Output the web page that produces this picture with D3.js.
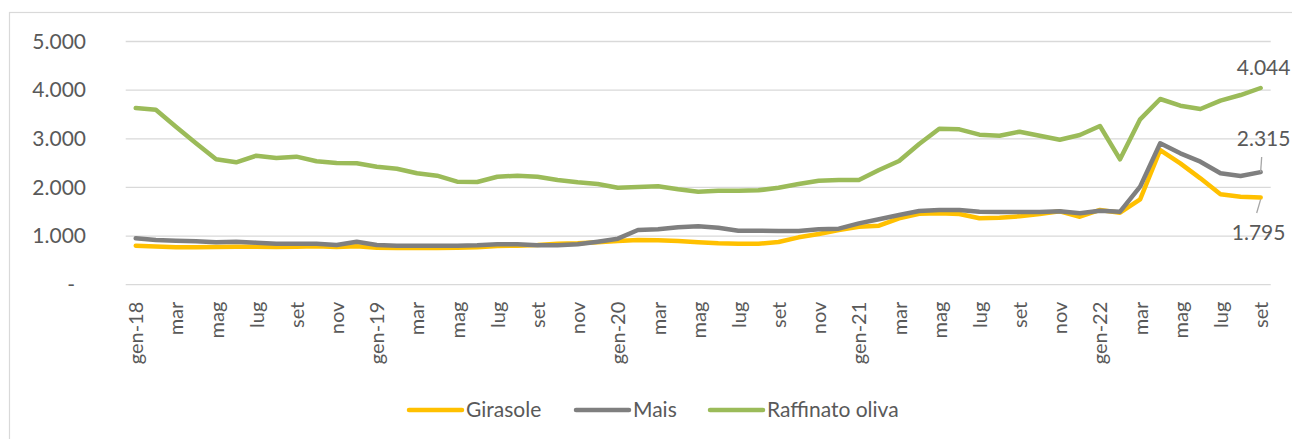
<!DOCTYPE html>
<html>
<head>
<meta charset="utf-8">
<script src="https://cdn.jsdelivr.net/npm/d3@7"></script>
<style>
  html, body { margin: 0; padding: 0; background: #fff; }
  svg { display: block; }
  text { font-family: Lato, "Open Sans", sans-serif; fill: #595959; }
</style>
</head>
<body>
<svg id="chart" width="1292" height="439"></svg>
<script>
// ---- data ----
const categories = [
  "gen-18","feb","mar","apr","mag","giu","lug","ago","set","ott","nov","dic",
  "gen-19","feb","mar","apr","mag","giu","lug","ago","set","ott","nov","dic",
  "gen-20","feb","mar","apr","mag","giu","lug","ago","set","ott","nov","dic",
  "gen-21","feb","mar","apr","mag","giu","lug","ago","set","ott","nov","dic",
  "gen-22","feb","mar","apr","mag","giu","lug","ago","set"
];
const girasole = [
  800, 785, 770, 768, 775, 781, 781, 775, 781, 789, 775, 789,
  762, 754, 754, 754, 762, 768, 796, 802, 816, 843, 850, 871,
  898, 919, 912, 898, 871, 850, 843, 843, 877, 974, 1042, 1125,
  1193, 1213, 1365, 1460, 1467, 1453, 1365, 1378, 1405, 1453, 1508, 1398,
  1536, 1480, 1755, 2769, 2495, 2187, 1858, 1810, 1795
];
const mais = [
  954, 919, 905, 892, 872, 884, 864, 843, 843, 843, 816, 884,
  816, 802, 802, 802, 802, 809, 830, 830, 809, 809, 830, 884,
  946, 1125, 1139, 1180, 1201, 1172, 1110, 1110, 1104, 1104, 1139, 1152,
  1260, 1344, 1433, 1515, 1536, 1536, 1501, 1494, 1494, 1494, 1508, 1467,
  1522, 1501, 2015, 2907, 2701, 2529, 2290, 2235, 2315
];
const raffinatoOliva = [
  3633, 3598, 3248, 2910, 2578, 2516, 2652, 2605, 2632, 2537, 2502, 2496,
  2426, 2385, 2290, 2241, 2118, 2111, 2220, 2241, 2220, 2153, 2105, 2070,
  1994, 2009, 2023, 1961, 1912, 1933, 1933, 1940, 1994, 2070, 2138, 2153,
  2153, 2358, 2543, 2893, 3207, 3194, 3084, 3063, 3146, 3063, 2981, 3078,
  3263, 2578, 3400, 3818, 3680, 3612, 3783, 3900, 4044
];
const seriesNames = ["Girasole", "Mais", "Raffinato oliva"];
const seriesColors = ["#FFC000", "#7F7F7F", "#9BBB59"];
const yTicks = [0, 1000, 2000, 3000, 4000, 5000];

// ---- layout ----
const svg = d3.select("#chart");
const plot = { left: 125.7, right: 1270.7, top: 41.5, bottom: 284.7 };

// chart border
svg.append("rect")
  .attr("x", 9.5).attr("y", 12.5)
  .attr("width", 1400).attr("height", 600)
  .attr("fill", "none").attr("stroke", "#d9d9d9").attr("stroke-width", 1.2);

const idx = d3.range(categories.length);
const x = d3.scalePoint().domain(idx).range([plot.left, plot.right]).padding(0.5);
const y = d3.scaleLinear().domain([0, 5000]).range([plot.bottom, plot.top]);

const locale = d3.formatLocale({ decimal: ",", thousands: ".", grouping: [3], currency: ["", ""] });
const fmt = locale.format(",d");

// gridlines
svg.append("g").selectAll("line").data(yTicks).join("line")
  .attr("x1", plot.left).attr("x2", plot.right)
  .attr("y1", d => y(d)).attr("y2", d => y(d))
  .attr("stroke", "#d9d9d9").attr("stroke-width", 1.3);

// y axis labels
const yAxis = d3.axisLeft(y).tickValues(yTicks).tickSize(0).tickPadding(0)
  .tickFormat(d => d === 0 ? "-" : fmt(d));
const gy = svg.append("g").attr("transform", `translate(${86},0)`).call(yAxis);
gy.select(".domain").remove();
gy.selectAll("text")
  .attr("font-family", "Lato, 'Open Sans', sans-serif")
  .attr("font-size", 21).attr("fill", "#595959")
  .attr("dx", d => d === 0 ? -11 : 0);

// x axis labels (every 2nd month)
const xAxis = d3.axisBottom(x).tickValues(idx.filter(i => i % 2 === 0))
  .tickSize(0).tickFormat(i => categories[i]);
const gx = svg.append("g").attr("transform", `translate(0,${plot.bottom})`).call(xAxis);
gx.select(".domain").remove();
gx.selectAll("text")
  .attr("font-family", "Lato, 'Open Sans', sans-serif")
  .attr("font-size", 20).attr("fill", "#595959")
  .attr("text-anchor", "end")
  .attr("transform", "translate(0,17) rotate(-90)")
  .attr("x", 0).attr("y", 0).attr("dy", "0.35em");

// lines
const allSeries = [girasole, mais, raffinatoOliva];
const line = d3.line().x((d, i) => x(i)).y(d => y(d));
svg.append("g").selectAll("path").data(allSeries).join("path")
  .attr("d", line)
  .attr("fill", "none")
  .attr("stroke", (d, i) => seriesColors[i])
  .attr("stroke-width", 4.5)
  .attr("stroke-linejoin", "round")
  .attr("stroke-linecap", "round");

// data labels for last points
const last = categories.length - 1;
const lx = x(last);
const labels = [
  { v: raffinatoOliva[last], tx: lx + 3, ty: 75 },
  { v: mais[last], tx: lx + 3, ty: 146 },
  { v: girasole[last], tx: lx - 2, ty: 240 }
];
const gl = svg.append("g");
labels.forEach(l => {
  gl.append("text").attr("x", l.tx).attr("y", l.ty)
    .attr("text-anchor", "middle").attr("font-size", 21)
    .text(fmt(l.v));
});
// leader lines
gl.append("line")
  .attr("x1", lx).attr("y1", y(mais[last]))
  .attr("x2", lx + 1).attr("y2", 157)
  .attr("stroke", "#a6a6a6").attr("stroke-width", 1.3);
gl.append("line")
  .attr("x1", lx).attr("y1", y(girasole[last]) + 2)
  .attr("x2", lx - 4).attr("y2", 213)
  .attr("stroke", "#a6a6a6").attr("stroke-width", 1.3);

// legend
const legendItems = [
  { name: seriesNames[0], color: seriesColors[0], x0: 409 },
  { name: seriesNames[1], color: seriesColors[1], x0: 576 },
  { name: seriesNames[2], color: seriesColors[2], x0: 710 }
];
const lg = svg.append("g");
legendItems.forEach(it => {
  lg.append("line")
    .attr("x1", it.x0).attr("x2", it.x0 + 53)
    .attr("y1", 410).attr("y2", 410)
    .attr("stroke", it.color).attr("stroke-width", 4.5)
    .attr("stroke-linecap", "round");
  lg.append("text").attr("x", it.x0 + 57).attr("y", 410).attr("dy", "0.35em")
    .attr("font-size", 21).text(it.name);
});
</script>
</body>
</html>
